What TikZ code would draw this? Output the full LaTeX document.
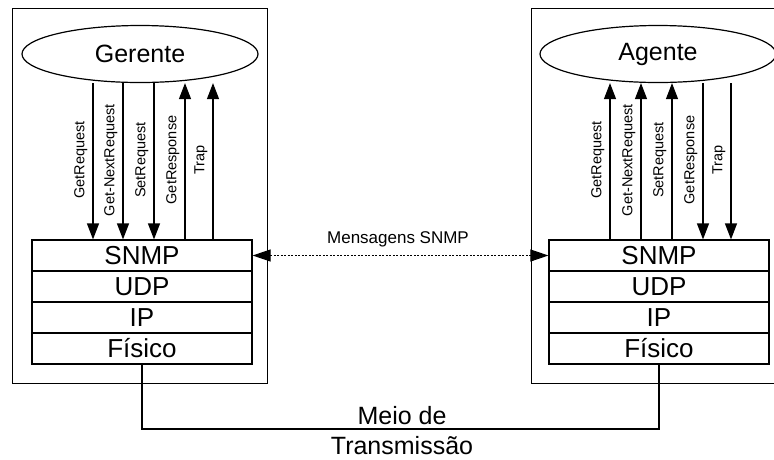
\documentclass[tikz,border=0pt]{standalone}
\usepackage{fontspec}
\setmainfont{Liberation Sans}
\usetikzlibrary{arrows.meta,shapes.geometric}
\begin{document}
\begin{tikzpicture}[x=1pt,y=-1pt,
  line width=1.2pt,
  layer/.style={draw, minimum width=220pt, minimum height=31pt, inner sep=0pt, font=\fontsize{26}{30}\selectfont},
  entity/.style={draw, ellipse, minimum width=236pt, minimum height=57pt, inner sep=0pt, font=\fontsize{25}{29}\selectfont},
  outerbox/.style={draw, minimum width=255pt, minimum height=375pt, inner sep=0pt, anchor=north west},
  msg/.style={-{Triangle[length=16pt,width=12pt]}},
  lbl/.style={rotate=90, anchor=south, inner sep=1pt, font=\fontsize{14.5}{17}\selectfont},
  dotarrow/.style={line width=1pt, dash pattern=on 2pt off 1.5pt, {Triangle[length=18pt,width=12pt]}-{Triangle[length=18pt,width=12pt]}}]
\useasboundingbox (0,0) rectangle (774,459);
\clip (0,0) rectangle (774,459);

% outer boxes
\node[outerbox] (boxL) at (12,8) {};
\node[outerbox] (boxR) at (531,8) {};

% entities
\node[entity] (ger) at (140,54) {Gerente};
\node[entity] (age) at (658,54) {Agente};

% protocol stacks
\node[layer] (snmpL) at (142,255.5) {SNMP};
\node[layer] (udpL)  at (142,286.5) {UDP};
\node[layer] (ipL)   at (142,317.5) {IP};
\node[layer] (fisL)  at (142,348.5) {Físico};
\node[layer] (snmpR) at (659,255.5) {SNMP};
\node[layer] (udpR)  at (659,286.5) {UDP};
\node[layer] (ipR)   at (659,317.5) {IP};
\node[layer] (fisR)  at (659,348.5) {Físico};

% left arrows
\coordinate (l1) at (93,160);
\coordinate (l2) at (123,160);
\coordinate (l3) at (154,160);
\coordinate (l4) at (185,160);
\coordinate (l5) at (213,160);
\draw[msg] (ger.south -| l1) -- (snmpL.north -| l1);
\draw[msg] (ger.south -| l2) -- (snmpL.north -| l2);
\draw[msg] (ger.south -| l3) -- (snmpL.north -| l3);
\draw[msg] (snmpL.north -| l4) -- (ger.south -| l4);
\draw[msg] (snmpL.north -| l5) -- (ger.south -| l5);
\node[lbl] (tl1) at ([xshift=-4pt]l1) {GetRequest};
\node[lbl] (tl2) at ([xshift=-4pt]l2) {Get-NextRequest};
\node[lbl] (tl3) at ([xshift=-4pt]l3) {SetRequest};
\node[lbl] (tl4) at ([xshift=-4pt]l4) {GetResponse};
\node[lbl] (tl5) at ([xshift=-4pt]l5) {Trap};

% right arrows
\coordinate (r1) at (610,160);
\coordinate (r2) at (641,160);
\coordinate (r3) at (672,160);
\coordinate (r4) at (703,160);
\coordinate (r5) at (731,160);
\draw[msg] (snmpR.north -| r1) -- (age.south -| r1);
\draw[msg] (snmpR.north -| r2) -- (age.south -| r2);
\draw[msg] (snmpR.north -| r3) -- (age.south -| r3);
\draw[msg] (age.south -| r4) -- (snmpR.north -| r4);
\draw[msg] (age.south -| r5) -- (snmpR.north -| r5);
\node[lbl] (tr1) at ([xshift=-4pt]r1) {GetRequest};
\node[lbl] (tr2) at ([xshift=-4pt]r2) {Get-NextRequest};
\node[lbl] (tr3) at ([xshift=-4pt]r3) {SetRequest};
\node[lbl] (tr4) at ([xshift=-4pt]r4) {GetResponse};
\node[lbl] (tr5) at ([xshift=-4pt]r5) {Trap};

% SNMP messages
\draw[dotarrow] (snmpL.east) -- (snmpR.west);
\node[font=\fontsize{17}{20}\selectfont] (msgl) at (398,239) {Mensagens SNMP};

% transmission medium
\coordinate (mid) at (402,429);
\draw (fisL.south) -- (fisL.south |- mid) -- (fisR.south |- mid) -- (fisR.south);
\node[align=center, font=\fontsize{25}{30}\selectfont] (meio) at (402,431) {Meio de\\Transmissão};
\end{tikzpicture}
\end{document}
